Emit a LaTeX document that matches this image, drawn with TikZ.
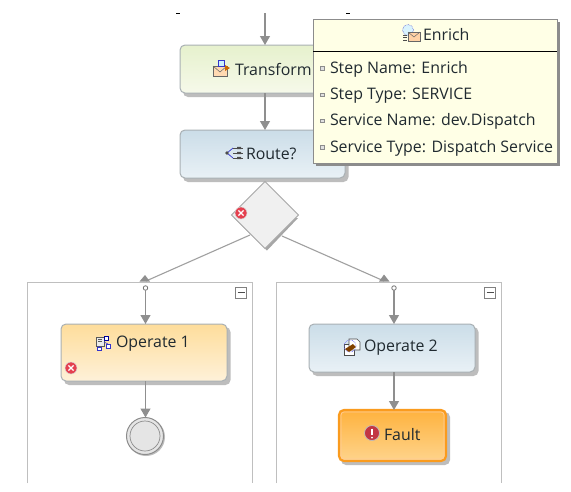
\documentclass[tikz,border=0pt]{standalone}
\usepackage{fontspec}
\setmainfont{Open Sans}
\usetikzlibrary{arrows.meta,shapes.geometric,calc}
\definecolor{linegray}{HTML}{8F8F8F}
\definecolor{shadowgray}{HTML}{BDBDBD}
\definecolor{boxedge}{HTML}{A9B0B4}
\definecolor{tipfill}{HTML}{FFFFE6}
\definecolor{txt}{HTML}{202A30}
\definecolor{errred}{HTML}{E5404F}
\definecolor{bluetop}{RGB}{203,221,232}
\definecolor{bluebot}{RGB}{233,241,246}
\definecolor{greentop}{RGB}{230,241,205}
\definecolor{greenbot}{RGB}{246,249,234}
\definecolor{ambertop}{RGB}{254,221,155}
\definecolor{amberbot}{RGB}{254,241,217}
\definecolor{faulttop}{RGB}{254,178,62}
\definecolor{faultbot}{RGB}{254,212,140}
\definecolor{faultedge}{RGB}{250,155,30}
\tikzset{
  x=1pt,y=-1pt,
  every node/.style={inner sep=0pt,outer sep=0pt},
  flowbox/.style={rectangle,rounded corners=5pt,draw=boxedge,line width=1pt,anchor=north west},
  shadowbox/.style={fill=shadowgray,rounded corners=5pt},
  lbl/.style={font=\fontsize{15.9}{18}\selectfont,text=txt,anchor=west},
  flow/.style={draw=linegray,line width=1.1pt,-{Triangle[width=10pt,length=9pt,color=linegray]}},
  branch/.style={draw=linegray!85,line width=1.1pt},
  headfill/.style={fill=linegray},
  frameline/.style={draw=black!25,line width=0.9pt},
  collapse/.style={draw=black!50,fill=white,line width=0.8pt,minimum size=11pt},
  port/.style={circle,draw=black!55,fill=white,line width=0.8pt,minimum size=4.5pt},
  bulletmark/.style={rectangle,draw=black!45,fill=black!12,line width=0.5pt,minimum size=3.5pt},
  errdot/.style={circle,fill=errred,draw=black!15,line width=0.5pt,minimum size=12pt},
}
\newcommand{\errx}[1]{\draw[white,line width=1.3pt] ($(#1)+(-2.6,-2.6)$) -- ($(#1)+(2.6,2.6)$) ($(#1)+(-2.6,2.6)$) -- ($(#1)+(2.6,-2.6)$);}
\newcommand{\mailicon}[2]{%
  \begin{scope}[shift={(#1,#2)}]
    \draw[draw=black!60,fill=orange!30,line width=.5pt] (-9,-2) rectangle (5,8);
    \draw[draw=black!60,line width=.5pt] (-9,-2) -- (-2,4) -- (5,-2);
    \draw[draw=blue!60!gray,fill=cyan!20,line width=.5pt] (-4,-8) rectangle (2,-2);
    \fill[orange!80!black] (3,-3) -- (8,0) -- (3,3) -- cycle;
  \end{scope}}
\newcommand{\gridicon}[2]{%
  \begin{scope}[shift={(#1,#2)},line width=.7pt]
    \draw[blue!60!gray] (-9,0) -- (-3,-5) (-9,0) -- (-3,5);
    \fill[black!70] (-9,0) circle (1.8);
    \draw[black!70] (-3,-5) -- (7,-5) (-3,0) -- (7,0) (-3,5) -- (7,5);
    \fill[black!70] (1,-6.2) rectangle (5,-3.8) (1,-1.2) rectangle (5,1.2) (1,3.8) rectangle (5,6.2);
  \end{scope}}
\newcommand{\opicon}[2]{%
  \begin{scope}[shift={(#1,#2)},line width=.6pt]
    \draw[black!65,fill=black!8] (-7,-6) rectangle (1,3);
    \draw[black!65] (-5,-4) -- (-1,-4) (-5,-2) -- (-1,-2);
    \draw[blue!60!black,fill=white] (1,-7) rectangle (5,-3);
    \draw[blue!60!gray,fill=white] (3,1) rectangle (7,5);
    \draw[blue!60!gray,fill=white] (-6,4) rectangle (-2,7);
    \draw[blue!60!gray] (1,-1) -- (5,1) (-4,3) -- (-4,4);
  \end{scope}}
\newcommand{\docicon}[2]{%
  \begin{scope}[shift={(#1,#2)},line width=.6pt]
    \draw[black!70,fill=white] (-8,-3) rectangle (2,8);
    \draw[black!70,fill=white] (-3,-8) -- (5,-8) -- (8,-5) -- (8,3) -- (-3,3) -- cycle;
    \draw[blue!60,densely dotted] (-2,-1) circle (6);
    \fill[orange!50!black] (-7,2) -- (1,-3) -- (4,0) -- (-3,5) -- cycle;
  \end{scope}}
\newcommand{\enrichicon}[2]{%
  \begin{scope}[shift={(#1,#2)},line width=.5pt]
    \draw[blue!60!gray,fill=cyan!15,densely dotted] (-3,-3) circle (5.5);
    \draw[black!60,fill=orange!35] (-3,-1) rectangle (9,8);
    \draw[black!60] (-3,-1) -- (3,4) -- (9,-1);
    \draw[black!70] (-8,2) -- (-4,2) (-8,4.5) -- (-4,4.5) (-8,7) -- (-4,7);
  \end{scope}}
\begin{document}
\begin{tikzpicture}
\useasboundingbox (0,0) rectangle (571,491);
\fill[white] (0,0) rectangle (571,491);

% stray marks at top
\draw[black,line width=.9pt] (176,13) -- (180,13) (346,13) -- (350,13);

% containers
\draw[frameline] (27,483) -- (27,282) -- (252,282) -- (252,483);
\draw[frameline] (276,483) -- (276,282) -- (501,282) -- (501,483);
\node[collapse] (cl) at (241,292.5) {};
\draw[black!70,line width=1pt] (237.5,292.5) -- (244.5,292.5);
\node[collapse] (cr) at (490,292.5) {};
\draw[black!70,line width=1pt] (486.5,292.5) -- (493.5,292.5);
\node[port] (pl) at (145.5,288) {};
\node[port] (pr) at (394,288) {};

% shadows
\fill[shadowbox] (183,48) rectangle (348.5,97);
\fill[shadowbox] (183,133) rectangle (348.5,182);
\fill[shadowbox] (64,327) rectangle (230.5,385);
\fill[shadowbox] (312,327) rectangle (478.5,376);
\fill[shadowbox] (341,412) rectangle (450,465);
\fill[black!35] (298,218) -- (267,250.5) -- (234,218) -- cycle;
\fill[shadowgray] (146,437) circle (19);

% boxes
\node[flowbox,top color=greentop,bottom color=greenbot,minimum width=165pt,minimum height=48pt] (transform) at (180,45) {};
\node[flowbox,top color=bluetop,bottom color=bluebot,minimum width=165pt,minimum height=48pt] (route) at (180,130) {};
\node[diamond,draw=black!35,fill=black!6,line width=.9pt,minimum width=67pt,minimum height=67pt] (gate) at (265,215) {};
\node[flowbox,top color=ambertop,bottom color=amberbot,minimum width=166pt,minimum height=57pt] (op1) at (61,324) {};
\node[flowbox,top color=bluetop,bottom color=bluebot,minimum width=166pt,minimum height=48pt] (op2) at (309,324) {};
\node[flowbox,draw=faultedge,line width=2.2pt,top color=faulttop,bottom color=faultbot,minimum width=107pt,minimum height=51pt] (fault) at (339,410) {};
\draw[draw=white!60!orange,line width=.7pt,rounded corners=3pt] (341,412) rectangle (444,459);
\node[circle,draw=black!45,fill=black!10,line width=1pt,minimum size=37pt] (endev) at (145,436) {};
\draw[black!45,line width=.7pt] (endev.center) circle (15);

% connectors
\coordinate (start) at (265,13);
\coordinate (gl) at (250,235);
\coordinate (gr) at (282,236);
\coordinate (tl) at (146,281);
\coordinate (tr) at (384,281);
\draw[flow] (start) -- (start |- transform.north);
\draw[flow] (start |- transform.south) -- (start |- route.north);
\draw[branch] (gl) -- (tl);
\draw[branch] (gr) -- (tr);
\fill[headfill] ($(tl)+(-6.5,0.5)$) -- ($(tl)+(-1,-6)$) -- ($(tl)+(4,0.5)$) -- cycle;
\fill[headfill] ($(tr)+(-5,0.5)$) -- ($(tr)+(0,-6.5)$) -- ($(tr)+(5.5,0.5)$) -- cycle;
\draw[flow] (pl) -- (pl |- op1.north);
\draw[flow] (pl |- op1.south) -- (pl |- endev.north);
\draw[flow] (pr) -- (pr |- op2.north);
\draw[flow] (pr |- op2.south) -- (pr |- fault.north);

% error badges
\node[errdot] (gateerr) at (241,213) {};
\errx{gateerr}
\node[errdot] (operr) at (71,368) {};
\errx{operr}

% labels and icons
\mailicon{222}{68}
\node[lbl] (tlabel) at (235,69) {Transform};
\gridicon{236}{153}
\node[lbl] (rlabel) at (246,154) {Route?};
\opicon{103}{343}
\node[lbl] (o1label) at (116,344) {Operate 1};
\docicon{352}{347}
\node[lbl] (o2label) at (364,348) {Operate 2};
\node[circle,fill=errred!85!black,draw=black!25,line width=.7pt,minimum size=15pt] (faulticon) at (372,433) {};
\draw[white,line width=1.7pt] (372,428.5) -- (372,434.5);
\fill[white] (372,437.5) circle (1);
\node[lbl] (flabel) at (384,435) {Fault};

% tooltip
\fill[black!45] (316,22) rectangle (559.5,165.5);
\node[rectangle,fill=tipfill,draw=black!45,line width=.8pt,anchor=north west,minimum width=244pt,minimum height=144pt] (tip) at (313,19) {};
\draw[black,line width=.9pt] (tip.west |- 0,51) -- (tip.east |- 0,51);
\enrichicon{411}{33}
\node[lbl] (tiptitle) at (423,35) {Enrich};
\node[bulletmark] (b1) at (322,68) {};
\node[lbl] (row1) at (330,69) {Step Name: Enrich};
\node[bulletmark] (b2) at (322,94.5) {};
\node[lbl] (row2) at (330,95.5) {Step Type: SERVICE};
\node[bulletmark] (b3) at (322,120.5) {};
\node[lbl] (row3) at (330,121.5) {Service Name: dev.Dispatch};
\node[bulletmark] (b4) at (322,147) {};
\node[lbl] (row4) at (330,148) {Service Type: Dispatch Service};
\end{tikzpicture}
\end{document}
